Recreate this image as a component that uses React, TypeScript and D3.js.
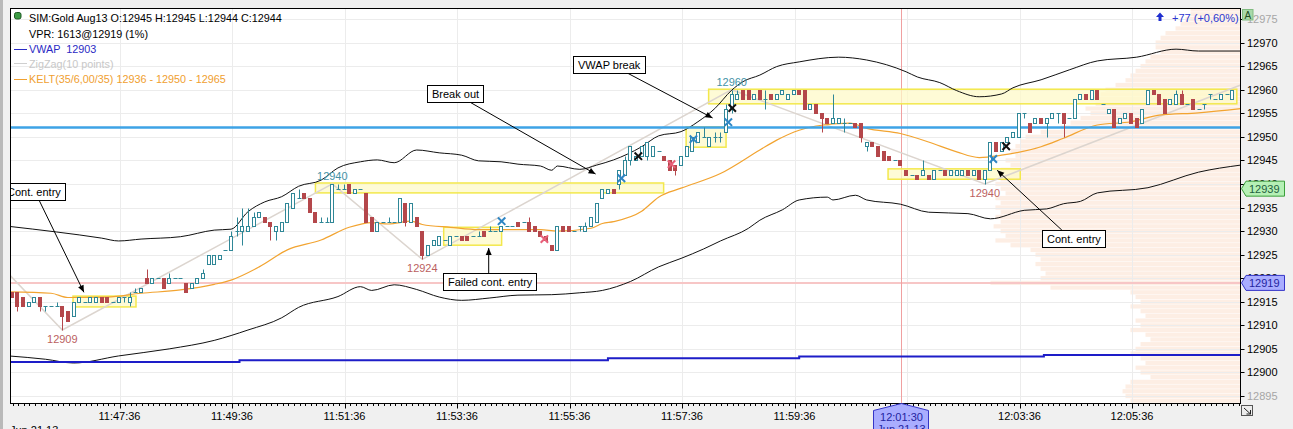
import React from "react";
import * as d3 from "d3";

// ---------------- data ----------------
const BAR_START = "11:45:41";
const BAR_SECONDS = 6;

// [open, high, low, close]
const bars: [number, number, number, number][] = [
  [12917, 12917, 12916, 12916], [12917, 12917, 12913, 12914], [12916, 12916, 12914, 12914], [12914, 12915, 12914, 12915],
  [12915, 12916, 12915, 12916], [12916, 12916, 12913, 12914], [12914, 12914, 12913, 12914], [12914, 12914, 12914, 12914],
  [12914, 12915, 12914, 12914], [12914, 12914, 12909, 12912], [12913, 12913, 12911, 12911], [12912, 12915, 12912, 12915],
  [12915, 12916, 12915, 12916], [12915, 12915, 12915, 12915], [12915, 12916, 12915, 12916], [12915, 12916, 12915, 12916],
  [12916, 12916, 12915, 12915], [12916, 12916, 12915, 12915], [12915, 12915, 12915, 12915], [12915, 12916, 12915, 12916],
  [12916, 12916, 12915, 12916], [12915, 12917, 12914, 12916], [12917, 12918, 12917, 12917], [12917, 12918, 12917, 12918],
  [12920, 12922, 12919, 12919], [12919, 12920, 12919, 12920], [12920, 12920, 12920, 12920], [12920, 12920, 12918, 12918],
  [12919, 12921, 12919, 12920], [12920, 12920, 12920, 12920], [12920, 12920, 12920, 12920], [12919, 12919, 12917, 12917],
  [12918, 12919, 12918, 12919], [12919, 12920, 12919, 12920], [12920, 12922, 12920, 12921], [12923, 12925, 12923, 12925],
  [12923, 12925, 12923, 12925], [12924, 12925, 12924, 12925], [12926, 12926, 12926, 12926], [12926, 12930, 12926, 12929],
  [12930, 12933, 12929, 12930], [12930, 12935, 12927, 12931], [12930, 12935, 12930, 12931], [12931, 12934, 12931, 12933],
  [12933, 12934, 12933, 12934], [12933, 12933, 12932, 12932], [12932, 12932, 12928, 12931], [12930, 12931, 12928, 12931],
  [12930, 12932, 12930, 12932], [12932, 12936, 12932, 12936], [12935, 12938, 12935, 12938], [12937, 12939, 12937, 12937],
  [12938, 12938, 12937, 12937], [12937, 12937, 12934, 12934], [12934, 12934, 12932, 12932], [12932, 12933, 12932, 12932],
  [12932, 12933, 12932, 12932], [12932, 12940, 12932, 12940], [12939, 12940, 12939, 12939], [12939, 12940, 12939, 12939],
  [12940, 12940, 12938, 12938], [12938, 12939, 12938, 12939], [12939, 12939, 12939, 12939], [12938, 12938, 12932, 12932],
  [12933, 12933, 12930, 12930], [12930, 12932, 12930, 12932], [12932, 12932, 12932, 12932], [12932, 12933, 12932, 12932],
  [12932, 12932, 12932, 12932], [12932, 12937, 12932, 12937], [12936, 12936, 12931, 12932], [12932, 12936, 12932, 12936],
  [12933, 12933, 12931, 12931], [12930, 12930, 12924, 12925], [12925, 12927, 12925, 12927], [12927, 12928, 12927, 12928],
  [12927, 12929, 12927, 12929], [12928, 12928, 12928, 12928], [12927, 12929, 12927, 12929], [12929, 12929, 12929, 12929],
  [12929, 12929, 12928, 12928], [12929, 12929, 12928, 12928], [12929, 12929, 12929, 12929], [12929, 12930, 12929, 12929],
  [12930, 12930, 12929, 12929], [12930, 12931, 12930, 12930], [12930, 12930, 12930, 12930], [12930, 12931, 12930, 12931],
  [12931, 12931, 12931, 12931], [12931, 12931, 12931, 12931], [12932, 12932, 12931, 12931], [12932, 12932, 12932, 12932],
  [12932, 12933, 12930, 12930], [12931, 12931, 12930, 12930], [12930, 12930, 12929, 12929], [12929, 12929, 12928, 12928],
  [12927, 12927, 12926, 12926], [12926, 12931, 12926, 12931], [12931, 12931, 12930, 12930], [12931, 12931, 12930, 12930],
  [12930, 12930, 12930, 12930], [12931, 12931, 12930, 12931], [12930, 12932, 12930, 12931], [12931, 12933, 12931, 12933],
  [12932, 12936, 12932, 12936], [12937, 12939, 12937, 12939], [12938, 12939, 12938, 12939], [12939, 12939, 12938, 12938],
  [12940, 12943, 12939, 12943], [12942, 12946, 12942, 12945], [12945, 12948, 12944, 12948], [12945, 12946, 12945, 12946],
  [12946, 12948, 12946, 12948], [12946, 12949, 12945, 12949], [12946, 12948, 12946, 12948], [12947, 12947, 12947, 12947],
  [12946, 12946, 12945, 12945], [12945, 12945, 12943, 12943], [12944, 12944, 12942, 12943], [12944, 12946, 12944, 12946],
  [12946, 12948, 12946, 12948], [12947, 12950, 12947, 12950], [12949, 12951, 12949, 12951], [12950, 12952, 12950, 12950],
  [12948, 12950, 12948, 12950], [12950, 12951, 12949, 12950], [12950, 12951, 12949, 12950], [12951, 12957, 12951, 12956],
  [12956, 12960, 12955, 12959], [12958, 12960, 12958, 12959], [12960, 12960, 12958, 12958], [12960, 12960, 12958, 12958],
  [12958, 12959, 12958, 12959], [12960, 12960, 12958, 12958], [12958, 12960, 12956, 12958], [12959, 12959, 12958, 12958],
  [12958, 12959, 12958, 12959], [12959, 12960, 12959, 12960], [12958, 12959, 12958, 12959], [12959, 12960, 12959, 12960],
  [12960, 12960, 12959, 12959], [12960, 12960, 12956, 12956], [12956, 12957, 12956, 12957], [12957, 12957, 12955, 12955],
  [12955, 12955, 12951, 12954], [12954, 12954, 12953, 12953], [12953, 12959, 12953, 12954], [12953, 12954, 12953, 12954],
  [12953, 12954, 12951, 12953], [12953, 12953, 12953, 12953], [12953, 12953, 12952, 12952], [12953, 12953, 12949, 12950],
  [12948, 12949, 12947, 12949], [12949, 12949, 12948, 12948], [12948, 12948, 12946, 12946], [12947, 12947, 12945, 12945],
  [12946, 12946, 12945, 12945], [12945, 12945, 12945, 12945], [12945, 12945, 12944, 12944], [12943, 12943, 12942, 12942],
  [12942, 12942, 12942, 12942], [12942, 12942, 12941, 12941], [12942, 12945, 12942, 12943], [12942, 12942, 12941, 12941],
  [12941, 12943, 12941, 12943], [12943, 12943, 12943, 12943], [12943, 12943, 12942, 12942], [12942, 12943, 12942, 12943],
  [12942, 12943, 12942, 12943], [12942, 12943, 12942, 12943], [12943, 12943, 12942, 12942], [12942, 12943, 12942, 12943],
  [12943, 12943, 12941, 12941], [12941, 12943, 12940, 12943], [12943, 12949, 12943, 12949], [12949, 12949, 12947, 12947],
  [12947, 12949, 12947, 12949], [12949, 12950, 12949, 12950], [12950, 12951, 12950, 12951], [12950, 12955, 12950, 12955],
  [12955, 12955, 12954, 12955], [12953, 12953, 12951, 12951], [12953, 12954, 12953, 12954], [12954, 12954, 12953, 12953],
  [12953, 12954, 12950, 12954], [12954, 12955, 12954, 12955], [12955, 12955, 12953, 12955], [12955, 12955, 12950, 12953],
  [12954, 12954, 12954, 12954], [12954, 12958, 12954, 12958], [12958, 12959, 12958, 12959], [12959, 12959, 12958, 12958],
  [12958, 12960, 12958, 12960], [12960, 12960, 12958, 12958], [12957, 12957, 12957, 12957], [12955, 12956, 12955, 12956],
  [12956, 12956, 12952, 12952], [12953, 12954, 12953, 12954], [12954, 12955, 12954, 12955], [12955, 12955, 12953, 12953],
  [12954, 12954, 12952, 12952], [12953, 12956, 12953, 12956], [12957, 12960, 12957, 12960], [12960, 12960, 12959, 12959],
  [12959, 12959, 12957, 12957], [12958, 12958, 12955, 12955], [12957, 12958, 12957, 12958], [12957, 12960, 12957, 12959],
  [12959, 12960, 12957, 12957], [12957, 12957, 12957, 12957], [12958, 12958, 12956, 12956], [12956, 12956, 12956, 12956],
  [12957, 12957, 12956, 12957], [12959, 12959, 12958, 12959], [12958, 12958, 12958, 12958], [12958, 12959, 12958, 12959],
  [12959, 12959, 12959, 12959], [12958, 12960, 12958, 12960],
];

// Keltner channel [bar index, price]
const keltUpper: [number, number][] = [
  [-0.5, 12931.0], [8, 12929.8], [16, 12928.5], [19, 12927.9], [23, 12928.3], [30, 12928.8], [36, 12930.2], [39, 12930.4],
  [42, 12934.1], [45, 12936.2], [48, 12937.3], [51, 12939.5], [55, 12940.8], [58, 12943.4], [62, 12944.7], [65, 12945.1],
  [68, 12944.5], [72, 12947.2], [76, 12946.6], [80, 12946.1], [83, 12944.9], [87, 12944.7], [90, 12944.2], [94, 12943.8],
  [96, 12942.9], [97, 12943.8], [101, 12943.1], [104, 12944.0], [107, 12945.1], [112, 12947.9], [115, 12950.2], [119, 12951.1],
  [122, 12953.2], [125, 12956.0], [128, 12959.9], [130, 12961.7], [133, 12963.1], [136, 12964.9], [140, 12965.9], [147, 12966.9],
  [152, 12966.3], [159, 12963.8], [161, 12962.7], [165, 12961.5], [168, 12959.8], [172, 12958.5], [176, 12959.1], [178, 12960.4],
  [183, 12962.1], [188, 12964.2], [193, 12966.1], [200, 12966.9], [207, 12968.6], [211, 12968.2], [218.5, 12968.2],
];
const keltMiddle: [number, number][] = [
  [-0.5, 12917.1], [7, 12916.8], [10, 12915.9], [17, 12916.0], [23, 12916.8], [30, 12917.5], [36, 12918.7], [39, 12919.6],
  [44, 12922.4], [49, 12926.0], [55, 12928.1], [60, 12930.8], [64, 12931.8], [67, 12931.5], [71, 12932.1], [73, 12931.4],
  [78, 12930.8], [83, 12930.3], [94, 12930.3], [97, 12930.0], [103, 12930.6], [105, 12931.6], [107, 12932.0], [112, 12934.2],
  [115, 12937.2], [119, 12939.1], [126, 12942.2], [133, 12947.2], [136, 12949.3], [140, 12951.4], [143, 12952.3], [149, 12952.9],
  [152, 12951.8], [158, 12950.7], [163, 12948.9], [168, 12946.8], [172, 12945.6], [176, 12946.1], [183, 12947.9], [187, 12949.7],
  [193, 12952.5], [199, 12953.2], [204, 12954.6], [211, 12955.1], [218.5, 12956.0],
];
const keltLower: [number, number][] = [
  [-0.5, 12903.5], [6, 12902.8], [11, 12902.0], [19, 12903.5], [28, 12905.0], [36, 12906.8], [42, 12909.0], [48, 12911.6],
  [51, 12913.8], [58, 12916.1], [62, 12918.2], [64, 12917.4], [68, 12918.6], [72, 12917.6], [76, 12916.0], [80, 12915.3],
  [85, 12915.8], [90, 12916.4], [96, 12916.5], [101, 12916.9], [105, 12917.4], [110, 12919.3], [115, 12922.4], [119, 12924.2],
  [123, 12926.2], [126, 12927.9], [131, 12930.6], [133, 12932.3], [137, 12934.5], [140, 12936.6], [145, 12937.2], [146, 12936.6],
  [150, 12937.6], [152, 12936.6], [158, 12935.7], [163, 12934.0], [170, 12933.7], [174, 12932.6], [180, 12934.4], [184, 12934.7],
  [187, 12935.8], [190, 12936.3], [193, 12938.1], [202, 12939.2], [211, 12942.5], [218.5, 12944.0],
];
// VWAP steps [bar index, price]
const vwap: [number, number][] = [
  [-0.5, 12902.2], [40.5, 12902.6], [106, 12903.0], [140, 12903.4], [183.5, 12903.7], [218.5, 12903.7],
];
// ZigZag swing points [bar index, price]
const zigzag: [number, number][] = [
  [-0.3, 12920.6], [9, 12909], [57, 12940], [73, 12924], [128, 12960], [173, 12940], [218.5, 12961],
];
const swingLabels: { bar: number; price: number; kind: "high" | "low" }[] = [
  { bar: 9, price: 12909, kind: "low" },
  { bar: 57, price: 12940, kind: "high" },
  { bar: 73, price: 12924, kind: "low" },
  { bar: 128, price: 12960, kind: "high" },
  { bar: 173, price: 12940, kind: "low" },
];
// yellow zones [start bar, end bar, top price, bottom price]
const zones: [number, number, number, number][] = [
  [54.0, 115.9, 12940.2, 12938.1],
  [10.9, 22.1, 12916.2, 12913.9],
  [76.8, 87.1, 12930.8, 12927.0],
  [119.9, 127.0, 12952.1, 12947.8],
  [123.9, 217.8, 12960.1, 12957.0],
  [155.8, 179.3, 12943.2, 12941.0],
];
// trade markers [bar, price, kind]
const markers: [number, number, "buy" | "sell" | "exit"][] = [
  [87.1, 12932.1, "buy"], [94.7, 12928.3, "sell"], [108.4, 12941.2, "buy"], [111.4, 12945.9, "exit"],
  [117.3, 12944.2, "sell"], [121.2, 12949.5, "buy"], [127.4, 12953.1, "buy"], [128.1, 12956.1, "exit"],
  [174.5, 12945.3, "buy"], [176.8, 12948.0, "exit"],
];
// text annotations: box anchored at [bar, price] (top-left), arrow from -> to in [bar, price]
const notes: { text: string; bar: number; price: number; from: [number, number]; to: [number, number] }[] = [
  { text: "Cont. entry", bar: -1.72, price: 12940.1, from: [4.85, 12936.6], to: [12.84, 12917.0] },
  { text: "Break out", bar: 73.9, price: 12961.0, from: [81.4, 12957.4], to: [103.8, 12942.1] },
  { text: "VWAP break", bar: 99.7, price: 12967.1, from: [109.5, 12963.5], to: [124.6, 12954.0] },
  { text: "Failed cont. entry", bar: 76.6, price: 12921.1, from: [84.8, 12921.1], to: [84.8, 12926.4] },
  { text: "Cont. entry", bar: 183.2, price: 12930.2, from: [186.7, 12930.2], to: [175.2, 12942.9] },
];
// volume profile [price, volume]
const profile: [number, number][] = [
  [12977, 323], [12976, 323], [12975, 355], [12974, 387], [12973, 419], [12972, 484], [12971, 516], [12970, 548],
  [12969, 548], [12968, 516], [12967, 581], [12966, 613], [12965, 645], [12964, 677], [12963, 710], [12962, 742],
  [12961, 806], [12960, 871], [12959, 903], [12958, 968], [12957, 935], [12956, 1000], [12955, 968], [12954, 1032],
  [12953, 1097], [12952, 1161], [12951, 1290], [12950, 1387], [12949, 1419], [12948, 1452], [12947, 1484], [12946, 1452],
  [12945, 1516], [12944, 1484], [12943, 1548], [12942, 1516], [12941, 1548], [12940, 1581], [12939, 1548], [12938, 1516],
  [12937, 1581], [12936, 1548], [12935, 1581], [12934, 1548], [12933, 1581], [12932, 1548], [12931, 1593], [12930, 1548],
  [12929, 1516], [12928, 1581], [12927, 1484], [12926, 1355], [12925, 1323], [12924, 1290], [12923, 1323], [12922, 1290],
  [12921, 1258], [12920, 1290], [12919, 1613], [12918, 1226], [12917, 710], [12916, 677], [12915, 645], [12914, 710],
  [12913, 645], [12912, 613], [12911, 677], [12910, 645], [12909, 710], [12908, 613], [12907, 581], [12906, 645],
  [12905, 677], [12904, 710], [12903, 645], [12902, 613], [12901, 677], [12900, 645], [12899, 581], [12898, 710],
  [12897, 742], [12896, 761], [12895, 742], [12894, 710],
];
const timeTicks = ["11:47:36", "11:49:36", "11:51:36", "11:53:36", "11:55:36", "11:57:36", "11:59:36", "12:01:36", "12:03:36", "12:05:36"];
const priceTicks = [12895, 12900, 12905, 12910, 12915, 12920, 12925, 12930, 12935, 12940, 12945, 12950, 12955, 12960, 12965, 12970, 12975];
const legendTitle = "SIM:Gold Aug13 O:12945 H:12945 L:12944 C:12944";
const legendVpr = "VPR: 1613@12919 (1%)";
const legendVwap = "VWAP  12903";
const legendZigzag = "ZigZag(10 points)";
const legendKelt = "KELT(35/6,00/35) 12936 - 12950 - 12965";
const changeText = "+77 (+0,60%)";
const lineLevel = 12952;
const pocLevel = 12919;
const lastPrice = 12939;
const cursorTime = "12:01:30";
const dateText = "Jun 21 13";

// ---------------- layout / style ----------------
const W = 1293, H = 429;
const PL = 10.5, PT = 8.5, PR = 1240.5, PB = 403.5;
const FONT = "'Liberation Sans', Arial, sans-serif";
const UP = "#2f8797";
const DOWN = "#b4474b";

const parseT = (s: string) => {
  const [h, m, sec] = s.split(":").map(Number);
  return new Date(2013, 5, 21, h, m, sec);
};
const xTime = d3.scaleTime().domain([parseT("11:47:36"), parseT("12:05:36")]).range([119.5, 1132]);
const barTime = (i: number) => new Date(parseT(BAR_START).getTime() + i * BAR_SECONDS * 1000);
const bx = (i: number) => xTime(barTime(i));
const y = d3.scaleLinear().domain([12895, 12975]).range([396, 19]);
const vScale = d3.scaleLinear().domain([0, d3.max(profile, (d) => d[1]) as number]).range([0, 250]);

const linePath = d3.line<[number, number]>().x((d) => bx(d[0])).y((d) => y(d[1]));
const smoothPath = d3.line<[number, number]>().x((d) => bx(d[0])).y((d) => y(d[1])).curve(d3.curveMonotoneX);
const stepPath = d3.line<[number, number]>().x((d) => bx(d[0])).y((d) => y(d[1])).curve(d3.curveStepAfter);

let _ctx: CanvasRenderingContext2D | null = null;
const measure = (t: string, font: string) => {
  if (!_ctx) _ctx = document.createElement("canvas").getContext("2d");
  if (!_ctx) return t.length * 6;
  _ctx.font = font;
  return _ctx.measureText(t).width;
};

const px = (v: number) => Math.round(v) + 0.5;

function Candles() {
  return (
    <g>
      {bars.map(([o, h, l, c], i) => {
        const x = Math.round(bx(i));
        const up = c >= o;
        const col = up ? UP : DOWN;
        const yT = px(y(Math.max(o, c)));
        const yB = px(y(Math.min(o, c)));
        return (
          <g key={i}>
            <line x1={x + 0.5} x2={x + 0.5} y1={px(y(h))} y2={px(y(l))} stroke={col} strokeWidth={1} />
            {yB - yT < 1 ? (
              <line x1={x - 1.5} x2={x + 2.5} y1={yT} y2={yT} stroke={col} strokeWidth={1} />
            ) : (
              <rect x={x - 1.5} y={yT} width={3} height={yB - yT} fill={up ? "#ffffff" : DOWN} stroke={col} strokeWidth={1} />
            )}
          </g>
        );
      })}
    </g>
  );
}

function Marker({ bar, price, kind }: { bar: number; price: number; kind: string }) {
  const x = bx(bar), yy = y(price), s = 3;
  const col = kind === "buy" ? "#2f86c4" : kind === "sell" ? "#e8607a" : "#111111";
  return (
    <g stroke={col} strokeWidth={2} strokeLinecap="square">
      <line x1={x - s} y1={yy - s} x2={x + s} y2={yy + s} />
      <line x1={x - s} y1={yy + s} x2={x + s} y2={yy - s} />
    </g>
  );
}

function Note({ n }: { n: (typeof notes)[number] }) {
  const font = `11px ${FONT}`;
  const w = Math.round(measure(n.text, font) + 9);
  const x0 = Math.round(bx(n.bar)) + 0.5;
  const y0 = Math.round(y(n.price)) + 0.5;
  const x1 = bx(n.from[0]), y1 = y(n.from[1]);
  const x2 = bx(n.to[0]), y2 = y(n.to[1]);
  const ang = Math.atan2(y2 - y1, x2 - x1);
  const L = 7, Wd = 3;
  const p1 = [x2 - L * Math.cos(ang) + Wd * Math.sin(ang), y2 - L * Math.sin(ang) - Wd * Math.cos(ang)];
  const p2 = [x2 - L * Math.cos(ang) - Wd * Math.sin(ang), y2 - L * Math.sin(ang) + Wd * Math.cos(ang)];
  return (
    <g>
      <line x1={x1} y1={y1} x2={x2} y2={y2} stroke="#000" strokeWidth={1} />
      <path d={`M${x2},${y2}L${p1[0]},${p1[1]}L${p2[0]},${p2[1]}Z`} fill="#000" />
      <rect x={x0} y={y0} width={w} height={17} fill="#fff" stroke="#000" strokeWidth={1} />
      <text x={x0 + 4.5} y={y0 + 12.5} fontSize={11} fontFamily={FONT} fill="#000">{n.text}</text>
    </g>
  );
}

export default function App() {
  const minorTicks: Date[] = d3.timeSecond.every(6)!.range(parseT("11:45:36"), parseT("12:07:40"));
  const cursorX = Math.round(xTime(parseT(cursorTime))) + 0.5;
  const rowH = Math.abs(y(1) - y(0));
  return (
    <div style={{ position: "absolute", left: 0, top: 0 }}>
      <svg width={W} height={H} style={{ display: "block" }} fontFamily={FONT}>
        <defs>
          <clipPath id="plot">
            <rect x={PL} y={PT} width={PR - PL} height={PB - PT} />
          </clipPath>
        </defs>
        <rect x={0} y={0} width={W} height={H} fill="#f0f0f0" />
        <rect x={0} y={0} width={3} height={H} fill="#b9b9b9" />
        <rect x={PL} y={PT} width={PR - PL} height={PB - PT} fill="#ffffff" />

        <g clipPath="url(#plot)">
          {/* volume profile */}
          <g>
            {profile.map(([p, v]) => (
              <rect key={p} x={PR - vScale(v)} y={y(p + 0.5) + 0.25} width={vScale(v)} height={rowH - 0.5} fill="#fbe3d2" opacity={0.6} />
            ))}
          </g>
          {/* grid */}
          {priceTicks.map((p) => (
            <line key={p} x1={PL} x2={PR} y1={px(y(p))} y2={px(y(p))} stroke="#ececec" strokeWidth={1} />
          ))}
          {timeTicks.map((t) => (
            <line key={t} x1={px(xTime(parseT(t)))} x2={px(xTime(parseT(t)))} y1={PT} y2={PB} stroke="#ececec" strokeWidth={1} />
          ))}
          {/* horizontal levels */}
          <line x1={PL} x2={PR} y1={y(pocLevel)} y2={y(pocLevel)} stroke="#f7c6c6" strokeWidth={2} />
          <line x1={cursorX} x2={cursorX} y1={PT} y2={PB} stroke="#f0a0a0" strokeWidth={1} />
          {/* zones */}
          {zones.map(([b0, b1, pt, pb], i) => (
            <rect key={i} x={bx(b0)} y={y(pt)} width={bx(b1) - bx(b0)} height={y(pb) - y(pt)} fill="#fdfac8" fillOpacity={0.75} stroke="#f3e84c" strokeWidth={1.5} />
          ))}
          {/* zigzag */}
          <path d={linePath(zigzag) || ""} fill="none" stroke="#dcd5cf" strokeWidth={1.5} />
          {/* keltner */}
          <path d={smoothPath(keltUpper) || ""} fill="none" stroke="#111" strokeWidth={1} />
          <path d={smoothPath(keltLower) || ""} fill="none" stroke="#111" strokeWidth={1} />
          <path d={smoothPath(keltMiddle) || ""} fill="none" stroke="#f2a431" strokeWidth={1.2} />
          {/* vwap */}
          <path d={stepPath(vwap) || ""} fill="none" stroke="#1d1dc8" strokeWidth={2} />
          {/* level line */}
          <line x1={PL} x2={PR} y1={y(lineLevel)} y2={y(lineLevel)} stroke="#3ea3e6" strokeWidth={2.5} />
          <Candles />
          {swingLabels.map((s, i) => (
            <text key={i} x={bx(s.bar)} y={s.kind === "high" ? y(s.price) - 4 : y(s.price) + 13} textAnchor="middle" fontSize={11} fill={s.kind === "high" ? "#4592a6" : "#bb5f5f"}>
              {s.price}
            </text>
          ))}
          {markers.map(([b, p, k], i) => (
            <Marker key={i} bar={b} price={p} kind={k} />
          ))}
          {notes.map((n, i) => (
            <Note key={i} n={n} />
          ))}
          {/* legend */}
          <rect x={14.5} y={12.5} width={6.5} height={6.5} rx={2} fill="#3d9c45" stroke="#1f5a24" strokeWidth={1} />
          <text x={29} y={22} fontSize={10.8} fill="#000">{legendTitle}</text>
          <text x={29} y={38} fontSize={10.8} fill="#000">{legendVpr}</text>
          <line x1={14} x2={27} y1={49.5} y2={49.5} stroke="#2a2ac4" strokeWidth={1} />
          <text x={29} y={53} fontSize={10.8} fill="#2a2ac4" xmlSpace="preserve" style={{ whiteSpace: "pre" }}>{legendVwap}</text>
          <line x1={14} x2={27} y1={63.5} y2={63.5} stroke="#cfcfcf" strokeWidth={1} />
          <text x={29} y={68} fontSize={10.8} fill="#c8c8c8">{legendZigzag}</text>
          <line x1={14} x2={27} y1={79.5} y2={79.5} stroke="#f0a030" strokeWidth={1} />
          <text x={29} y={83} fontSize={10.8} fill="#f0a030">{legendKelt}</text>
          {/* change indicator */}
          <path d="M1160,12.5 L1164,17 L1161.5,17 L1161.5,21 L1158.5,21 L1158.5,17 L1156,17 Z" fill="#1f2fd0" />
          <text x={1172} y={22} fontSize={11} fill="#2a36d0">{changeText}</text>
        </g>
        <rect x={PL} y={PT} width={PR - PL} height={PB - PT} fill="none" stroke="#000" strokeWidth={1} />

        {/* right axis */}
        {priceTicks.map((p) => (
          <g key={p}>
            <line x1={PR} x2={PR + 4} y1={px(y(p))} y2={px(y(p))} stroke="#000" strokeWidth={1} />
            <text x={1247} y={y(p) + 4} fontSize={11} fill={p === 12975 || p === 12895 ? "#a6a6a6" : "#000"}>{p}</text>
          </g>
        ))}
        <rect x={1242.5} y={9.5} width={10.5} height={10.5} fill="#a9d9a9" stroke="#80bb80" strokeWidth={1} />
        <text x={1247.8} y={18.5} textAnchor="middle" fontSize={10} fill="#234d23">A</text>
        {/* last price / poc markers */}
        <path d={`M${PR + 1},${y(lastPrice)} L1246,${y(lastPrice) - 7.5} L1284.5,${y(lastPrice) - 7.5} L1284.5,${y(lastPrice) + 7.5} L1246,${y(lastPrice) + 7.5} Z`} fill="#b5f0b5" stroke="#3b9f3b" strokeWidth={1} />
        <text x={1249} y={y(lastPrice) + 4} fontSize={11} fill="#1f5f3f">{lastPrice}</text>
        <path d={`M${PR + 1},${y(pocLevel)} L1246,${y(pocLevel) - 7.5} L1284.5,${y(pocLevel) - 7.5} L1284.5,${y(pocLevel) + 7.5} L1246,${y(pocLevel) + 7.5} Z`} fill="#a9adff" stroke="#3535c8" strokeWidth={1} />
        <text x={1249} y={y(pocLevel) + 4} fontSize={11} fill="#2424a0">{pocLevel}</text>
        {/* corner box */}
        <rect x={1241.5} y={405.5} width={11} height={10} fill="#ececec" stroke="#555" strokeWidth={1} />
        <path d="M1244,408 L1250.5,414 M1250.5,410 L1250.5,414 L1246.5,414" stroke="#222" fill="none" strokeWidth={1} />

        {/* bottom axis */}
        {minorTicks.map((t, i) => {
          const xx = xTime(t);
          if (xx < PL || xx > PR) return null;
          return <line key={i} x1={px(xx)} x2={px(xx)} y1={PB} y2={PB + 2.5} stroke="#000" strokeWidth={1} />;
        })}
        {timeTicks.map((t) => (
          <g key={t}>
            <line x1={px(xTime(parseT(t)))} x2={px(xTime(parseT(t)))} y1={PB} y2={PB + 5} stroke="#000" strokeWidth={1} />
            <text x={xTime(parseT(t))} y={420} textAnchor="middle" fontSize={11} fill="#000">{t}</text>
          </g>
        ))}
        <text x={10} y={434} fontSize={11} fill="#000">{dateText}</text>
        {/* cursor time marker */}
        <path d={`M${cursorX},${PB} L${cursorX + 27},${PB + 7} L${cursorX + 27},440 L${cursorX - 28},440 L${cursorX - 28},${PB + 7} Z`} fill="#a9adff" stroke="#3535c8" strokeWidth={1} />
        <text x={cursorX} y={421} textAnchor="middle" fontSize={11} fill="#2424a0">{cursorTime}</text>
        <text x={cursorX} y={433} textAnchor="middle" fontSize={11} fill="#2424a0">{dateText}</text>
      </svg>
    </div>
  );
}
